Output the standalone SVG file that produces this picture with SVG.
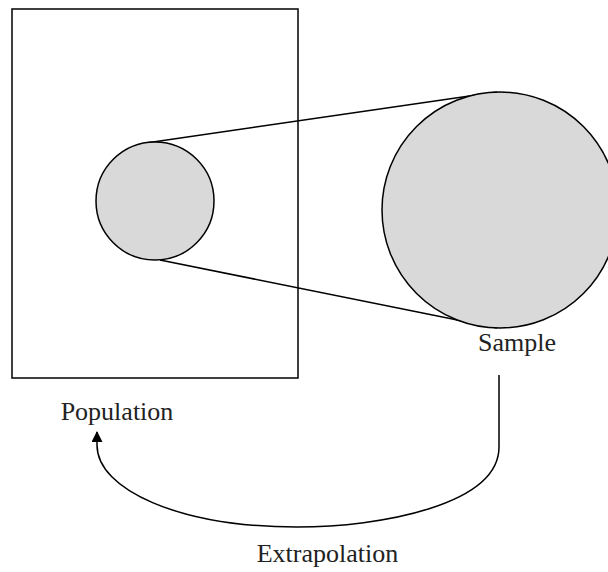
<svg xmlns="http://www.w3.org/2000/svg" width="608" height="572" viewBox="0 0 608 572">
<style>
.ln{fill:none;stroke:#000;stroke-width:1.5}
.circ{fill:#d9d9d9;stroke:#000;stroke-width:1.5}
.lbl{font-family:"Liberation Serif","Times New Roman",serif;font-size:26px;fill:#222;text-anchor:middle}
</style>
<defs>
<marker id="ah" markerWidth="12" markerHeight="12" refX="10" refY="5.5" orient="auto" markerUnits="userSpaceOnUse">
<path d="M0,0 L11,5.5 L0,11 Z" fill="#000"/>
</marker>
</defs>
<rect width="608" height="572" fill="#fff"/>
<g id="population">
<rect x="12" y="9" width="286" height="369" class="ln"/>
<text x="117" y="420" class="lbl">Population</text>
</g>
<g id="connectors">
<line x1="146" y1="143" x2="497" y2="92" class="ln"/>
<line x1="160" y1="260" x2="497" y2="328" class="ln"/>
<path d="M499,375 L499,447 C499,505 380,527 297,527 C180,527 97,490 97,445 L97,432" class="ln" marker-end="url(#ah)"/>
</g>
<g id="subset">
<circle cx="155" cy="201" r="59" class="circ"/>
</g>
<g id="sample">
<circle cx="500" cy="210" r="118" class="circ"/>
<text x="517" y="351" class="lbl">Sample</text>
</g>
<g id="extrapolation">
<text x="327.5" y="562" class="lbl">Extrapolation</text>
</g>
</svg>
